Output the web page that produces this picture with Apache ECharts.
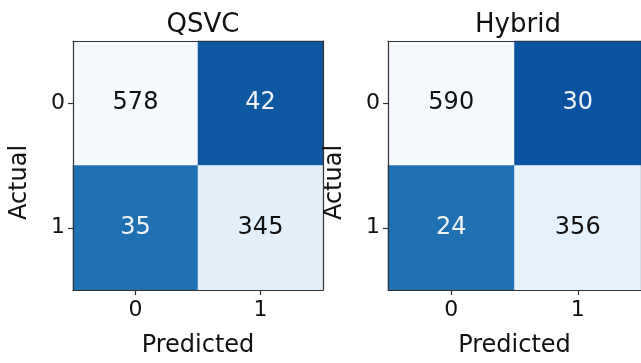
<!DOCTYPE html>
<html>
<head>
<meta charset="utf-8">
<script src="https://cdn.jsdelivr.net/npm/echarts@6/dist/echarts.min.js"></script>
<style>
html,body{margin:0;padding:0;background:#fff;}
#chart{width:641px;height:363px;}
</style>
</head>
<body>
<div id="chart"></div>
<script>
// ---- data ----
const titles = ['QSVC', 'Hybrid'];
const predictedLabels = ['0', '1'];
const actualLabels = ['0', '1'];
// matrices: rows = actual, cols = predicted
const qsvcMatrix = [[578, 42], [35, 345]];
const hybridMatrix = [[590, 30], [24, 356]];
const xAxisName = 'Predicted';
const yAxisName = 'Actual';

// ---- styles ----
const FONT = 'DejaVu Sans';
const cellColors = [
  [['#f5f9fe', '#0e58a2'], ['#2070b4', '#e3eff9']],
  [['#f5f9fe', '#0b53a0'], ['#2070b4', '#e5f1fb']]
];
const textColors = [
  [['#111111', '#f2f2f2'], ['#f2f2f2', '#111111']],
  [['#111111', '#f2f2f2'], ['#f2f2f2', '#111111']]
];
const grids = [
  {left: 73, top: 41, width: 250, height: 250},
  {left: 388, top: 41, width: 254, height: 250}
];

const matrices = [qsvcMatrix, hybridMatrix];
const chart = echarts.init(document.getElementById('chart'), null, {renderer: 'canvas'});

const option = {
  backgroundColor: '#ffffff',
  animation: false,
  title: [], grid: [], xAxis: [], yAxis: [], series: []
};

matrices.forEach((m, k) => {
  const g = grids[k];
  option.grid.push({left: g.left, top: g.top, width: g.width, height: g.height, containLabel: false});
  option.title.push({
    text: titles[k],
    left: g.left + 125, top: 7, textAlign: 'center',
    textStyle: {fontFamily: FONT, fontSize: 26, fontWeight: 'normal', color: '#111'}
  });
  const axisLineStyle = {show: true, lineStyle: {color: '#333', width: 1.2}};
  option.xAxis.push({
    type: 'category', gridIndex: k, data: predictedLabels, position: 'bottom', z: 5,
    name: xAxisName, nameLocation: 'middle', nameGap: 44,
    nameTextStyle: {fontFamily: FONT, fontSize: 24, color: '#111'},
    axisLine: axisLineStyle,
    axisTick: {show: true, alignWithLabel: true, length: 5, lineStyle: {color: '#333', width: 1.2}},
    axisLabel: {fontFamily: FONT, fontSize: 22, color: '#111', margin: 9},
    splitLine: {show: false}
  });
  option.xAxis.push({
    type: 'category', gridIndex: k, data: predictedLabels, position: 'top', z: 5,
    axisLine: axisLineStyle, axisTick: {show: false}, axisLabel: {show: false}, splitLine: {show: false}
  });
  option.yAxis.push({
    type: 'category', gridIndex: k, data: actualLabels, inverse: true, position: 'left', z: 5,
    name: yAxisName, nameLocation: 'middle', nameGap: 41, nameRotate: 90,
    nameTextStyle: {fontFamily: FONT, fontSize: 24, color: '#111', padding: [0, 34, 0, 0]},
    axisLine: axisLineStyle,
    axisTick: {show: true, alignWithLabel: true, length: 5, lineStyle: {color: '#333', width: 1.2}},
    axisLabel: {fontFamily: FONT, fontSize: 22, color: '#111', margin: 8},
    splitLine: {show: false}
  });
  option.yAxis.push({
    type: 'category', gridIndex: k, data: actualLabels, inverse: true, position: 'right', z: 5,
    axisLine: axisLineStyle, axisTick: {show: false}, axisLabel: {show: false}, splitLine: {show: false}
  });
  const data = [];
  for (let r = 0; r < m.length; r++) {
    for (let c = 0; c < m[r].length; c++) {
      data.push({
        value: [c, r, m[r][c]],
        itemStyle: {color: cellColors[k][r][c]},
        label: {color: textColors[k][r][c]}
      });
    }
  }
  option.series.push({
    type: 'heatmap', xAxisIndex: 2 * k, yAxisIndex: 2 * k, data: data,
    label: {show: true, fontFamily: FONT, fontSize: 24, formatter: p => String(p.value[2])},
    itemStyle: {borderWidth: 0},
    emphasis: {disabled: true}
  });
});

chart.setOption(option);
</script>
</body>
</html>
